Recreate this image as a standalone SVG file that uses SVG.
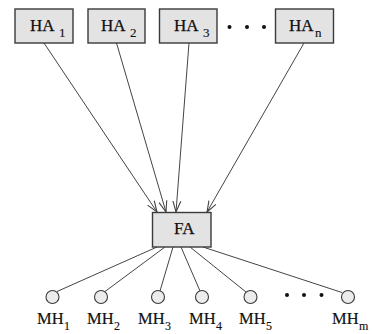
<svg xmlns="http://www.w3.org/2000/svg" width="372" height="334" viewBox="0 0 372 334">
<style>
.box{fill:#e3e3e3;stroke:#3a3a3a;stroke-width:1.4}
.mh{fill:#ececec;stroke:#3a3a3a;stroke-width:1.1}
.t{font-family:"Liberation Serif",serif;font-size:17px;fill:#111;stroke:#111;stroke-width:0.25}
.m{font-family:"Liberation Serif",serif;font-size:16.5px;fill:#111;stroke:#111;stroke-width:0.2}
.s{font-family:"Liberation Serif",serif;font-size:13px;fill:#111;stroke:#111;stroke-width:0.15}
.ss{font-family:"Liberation Serif",serif;font-size:12px;fill:#111;stroke:#111;stroke-width:0.15}
.ln{stroke:#444;stroke-width:1;fill:none}
.dot{fill:#111}
</style>
<defs>
<marker id="arr" markerWidth="12" markerHeight="10" refX="11" refY="5" orient="auto" markerUnits="userSpaceOnUse">
<path d="M0,1 L11,5 L0,9" fill="none" stroke="#444" stroke-width="1.1"/>
</marker>
</defs>
<g id="connectors">
<line class="ln" x1="44" y1="43" x2="157" y2="212" marker-end="url(#arr)"/>
<line class="ln" x1="116.5" y1="43" x2="166" y2="212" marker-end="url(#arr)"/>
<line class="ln" x1="189" y1="43" x2="176" y2="212" marker-end="url(#arr)"/>
<line class="ln" x1="304" y1="43" x2="207" y2="212" marker-end="url(#arr)"/>
<line class="ln" x1="157" y1="247" x2="57" y2="291.5"/>
<line class="ln" x1="165" y1="247" x2="105" y2="291.5"/>
<line class="ln" x1="173" y1="247" x2="160" y2="291"/>
<line class="ln" x1="181" y1="247" x2="200" y2="291"/>
<line class="ln" x1="190" y1="247" x2="246" y2="292"/>
<line class="ln" x1="203" y1="247" x2="342" y2="292.5"/>
</g>
<g id="HA1"><rect class="box" x="15" y="9" width="58" height="34"/><text class="t" x="30" y="31">HA</text><text class="s" x="59" y="37">1</text></g>
<g id="HA2"><rect class="box" x="88" y="9" width="57" height="34"/><text class="t" x="101" y="31">HA</text><text class="s" x="130" y="37">2</text></g>
<g id="HA3"><rect class="box" x="159.5" y="9" width="57.5" height="34"/><text class="t" x="174" y="31">HA</text><text class="s" x="203" y="37">3</text></g>
<g id="dots-top"><circle class="dot" cx="229.5" cy="27" r="2"/><circle class="dot" cx="247" cy="27" r="2"/><circle class="dot" cx="264" cy="27" r="2"/></g>
<g id="HAn"><rect class="box" x="275.5" y="9" width="58" height="34"/><text class="t" x="289" y="31">HA</text><text class="s" x="315" y="37">n</text></g>
<g id="FA"><rect class="box" x="152.5" y="212.5" width="58.5" height="34.5"/><text class="t" x="174" y="234">FA</text></g>
<g id="MH1"><circle class="mh" cx="52.5" cy="297" r="6.5"/><text class="m" x="37" y="324">MH</text><text class="ss" x="64" y="330">1</text></g>
<g id="MH2"><circle class="mh" cx="101" cy="297" r="6.5"/><text class="m" x="87" y="324">MH</text><text class="ss" x="114" y="330">2</text></g>
<g id="MH3"><circle class="mh" cx="158" cy="297" r="6.5"/><text class="m" x="138" y="324">MH</text><text class="ss" x="165" y="330">3</text></g>
<g id="MH4"><circle class="mh" cx="202" cy="297" r="6.5"/><text class="m" x="189" y="324">MH</text><text class="ss" x="216" y="330">4</text></g>
<g id="MH5"><circle class="mh" cx="250.5" cy="297" r="6.5"/><text class="m" x="239" y="324">MH</text><text class="ss" x="266" y="330">5</text></g>
<g id="dots-bottom"><circle class="dot" cx="287" cy="295" r="2"/><circle class="dot" cx="304" cy="295" r="2"/><circle class="dot" cx="321.5" cy="295" r="2"/></g>
<g id="MHm"><circle class="mh" cx="348" cy="297" r="6.5"/><text class="m" x="332" y="324">MH</text><text class="ss" x="359" y="330">m</text></g>
</svg>
